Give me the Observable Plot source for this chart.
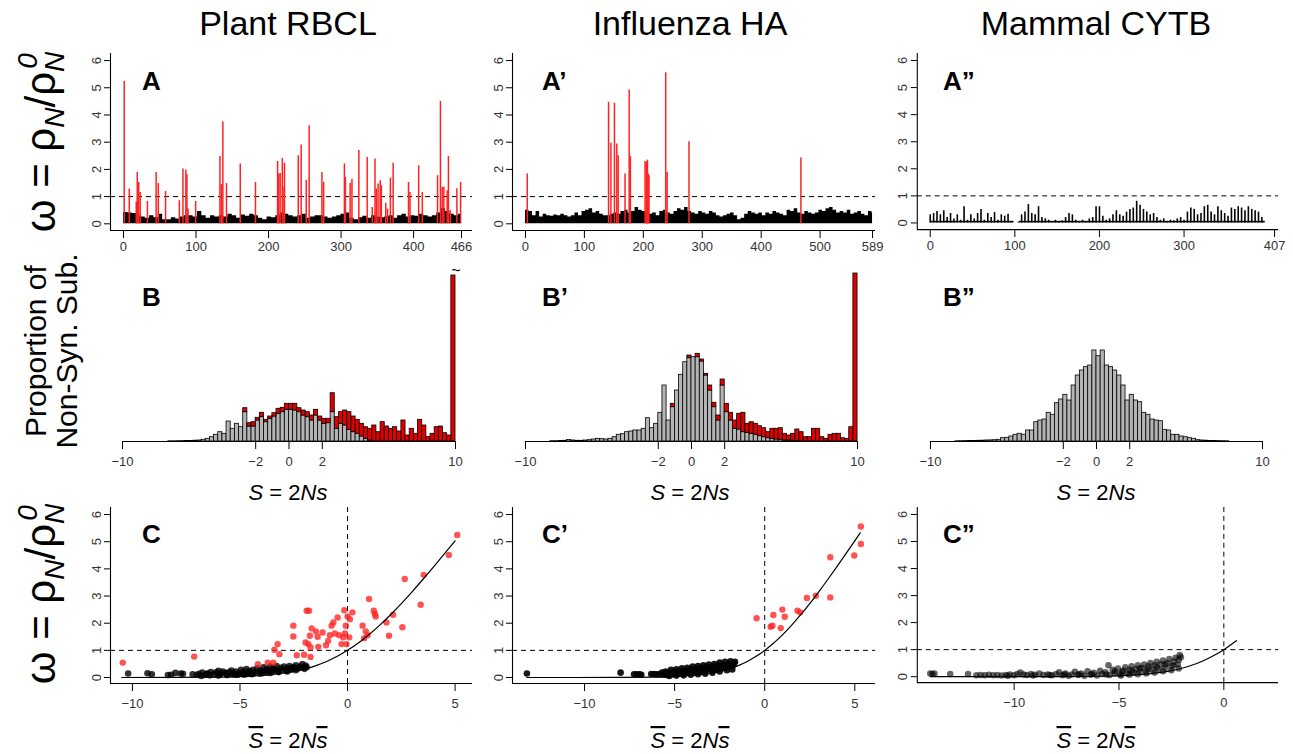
<!DOCTYPE html>
<html><head><meta charset="utf-8">
<script src="https://cdn.jsdelivr.net/npm/d3@7"></script>
<script src="https://cdn.jsdelivr.net/npm/@observablehq/plot@0.6"></script>
<style>
body{margin:0;background:#fff;}
#wrap{position:relative;width:1293px;height:754px;overflow:hidden;background:#fff;}
.p{position:absolute;}
.p svg{overflow:visible;}
</style></head><body><div id="wrap"></div>
<script>
// ---------------- DATA ----------------
const titles = ["Plant RBCL", "Influenza HA", "Mammal CYTB"];
const siteTicksA = [0, 100, 200, 300, 400, 466];
const siteTicksA1 = [0, 100, 200, 300, 400, 500, 589];
const siteTicksA2 = [0, 100, 200, 300, 407];
const omegaTicks = [0, 1, 2, 3, 4, 5, 6];
const sTicksB = [-10, -2, 0, 2, 10];
const sTicksC = [-10, -5, 0, 5];
const sTicksC2 = [-10, -5, 0];

// Row A: background omega per site (every 6 sites), plant RBCL
const blackA = [0.42,0.40,0.38,0.30,0.25,0.20,0.30,0.22,0.35,0.15,
 0.15,0.22,0.18,0.25,0.30,0.30,0.25,0.45,0.30,0.20,
 0.30,0.25,0.30,0.25,0.35,0.30,0.20,0.32,0.28,0.35,
 0.30,0.20,0.15,0.25,0.22,0.30,0.40,0.35,0.30,0.25,
 0.30,0.35,0.20,0.25,0.30,0.30,0.25,0.20,0.25,0.30,
 0.35,0.40,0.20,0.15,0.22,0.28,0.20,0.30,0.25,0.22,
 0.25,0.30,0.20,0.30,0.35,0.25,0.30,0.28,0.35,0.30,
 0.25,0.30,0.40,0.55,0.45,0.35,0.30,0.35];
// sites with positive selection (site, omega), plant RBCL
const redA = [[1,5.24],[8,1.28],[17.6,0.8],[19,1.89],[21,1.52],[23,1.15],[33,0.82],[45,1.89],[48,1.48],[58,1.19],
 [77,0.85],[82,2.01],[86,1.98],[87.5,1.8],[89,0.54],[99.5,0.82],[133,2.47],[135,1.44],[137,3.75],[142,1.48],
 [161,2.2],[182,1.52],[212.5,2.29],[214,1.83],[216,1.85],[219,2.4],[220,1.34],[222,2.23],[241,2.5],[245,2.9],
 [252,1.6],[256,3.6],[273.6,1.89],[276,1.52],[304.6,2.2],[306,1.7],[312.5,1.48],[315,1.64],[324.5,2.69],[336,2.44],
 [343,0.6],[346.8,2.38],[348.6,1.28],[351,1.46],[354,1.58],[355.5,1.4],[361.6,0.76],[364,0.54],[368,1.68],[371.8,2.23],
 [393,1.52],[395,1.15],[407,2.13],[412,1.15],[433,1.77],[437,4.5],[439.4,1.34],[441.7,1.34],[446.3,1.21],[448,2.48],
 [450.5,0.48],[459.7,1.29],[464.8,1.52]];

// Influenza HA
const blackA1 = [0.5,0.45,0.3,0.45,0.25,0.35,0.3,0.28,0.32,0.3,
 0.35,0.3,0.25,0.3,0.4,0.3,0.45,0.5,0.55,0.4,
 0.45,0.35,0.3,0.3,0.35,0.4,0.35,0.45,0.5,0.4,
 0.45,0.6,0.5,0.45,0.4,0.35,0.4,0.3,0.45,0.5,
 0.4,0.35,0.45,0.55,0.5,0.6,0.45,0.4,0.35,0.45,
 0.4,0.35,0.45,0.4,0.3,0.25,0.3,0.35,0.4,0.3,
 0.15,0.2,0.35,0.45,0.4,0.35,0.4,0.3,0.4,0.35,
 0.45,0.4,0.35,0.3,0.5,0.45,0.55,0.4,0.35,0.45,
 0.4,0.35,0.4,0.5,0.45,0.55,0.6,0.5,0.4,0.45,
 0.4,0.5,0.35,0.4,0.45,0.35,0.3,0.45,0.4];
const redA1 = [[3,1.83],[141,4.47],[145,2.96],[151,4.43],[155,2.93],[157.3,2.5],[169,1.83],[176,4.92],[178,2.47],
 [203,2.29],[205,2.26],[206,2.1],[207,2.34],[208.4,1.83],[209.6,1.77],[238,5.55],[240.4,1.89],[277.5,3.02],[467.4,2.42]];

// Mammal CYTB (every 4 sites)
const blackA2 = [0.3,0.35,0.42,0.3,0.45, 0.2,0.35,0.15,0.3,0.1, 0.6,0.1,0.3,0.15,0.35, 0.5,0.1,0.35,0.2,0.38,
 0.1,0.3,0.25,0.32,0.05, 0,0.02,0.3,0.4,0.68, 0.35,0.3,0.6,0.2,0.15, 0.1,0.05,0.1,0.05,0.08,
 0.2,0.35,0.3,0.1,0.05, 0.1,0.05,0.15,0.2,0.6, 0.6,0.25,0.1,0.15,0.3, 0.45,0.3,0.25,0.4,0.5,
 0.55,0.8,0.65,0.5,0.4, 0.3,0.35,0.2,0.1,0.15, 0.05,0.1,0.08,0.15,0.2, 0.1,0.4,0.55,0.5,0.3,
 0.35,0.6,0.65,0.4,0.3, 0.6,0.45,0.35,0.25,0.55, 0.5,0.6,0.55,0.45,0.6, 0.5,0.45,0.4,0.2];
const baseA2 = [[0, 99], [105, 396]];

// Row B: histograms, bins of 0.25 from -10 to 10 (heights in relative units)
const grayB = [0,0,0,0,0,0,0,0,0,0, 0,0.2,0.2,0.3,0.4,0.5,0.6,0.8,1,1.7,
 2.7,4.3,6.7,9.3,7.7,20,12.7,17.7,14.3,29.3, 15,15,21,24.3,19.3,22.7,25,27.7,29.3,31.7,
 31.7,31,29.3,26,24.3,21,26,21,17.7,18.3, 29.3,12.7,17.7,16,11.7,9.3,7.7,5,2.7,1,
 0,0,0,0,0,0,0,0,0,0, 0,0,0,0,0,0,0,0,0,0];
const redB = [0,0,0,0,0,0,0,0,0,0, 0,0,0,0,0,0,0,0,0,0,
 0,0,0,0,0,0,0,0,0,4, 3.3,4.3,2.7,4.4,2.4,2.3,3.3,5,4.4,6,
 6,6.7,4,5,5,5,5.7,4,5,4.4, 19,11.6,11.6,15,17.6,15.7,14,12.7,11.6,11.7,
 16,9.3,19.3,15,12.7,14.3,10,21,6,12.7, 7.7,21.7,16,4.3,7.7,14.3,15,8.3,6,166];

const grayB1 = [0,0,0,0,0,0,0.3,0.3,0.5,0.7, 1.5,1,0.7,0.7,1,1.3,2,2.7,2.3,2,
 2.7,4.3,6.7,7.3,9.3,10,11,11,12.7,23.3, 13.3,17.7,28.7,56,21,34.3,51,66.7,79.3,83.3,
 84.3,84.3,80,66,51,34.3,21,56,29.3,21, 12.7,12,9.3,8.7,7.7,6.7,5.3,4.3,3.3,2.7,
 2,1.5,1,1,0.7,0.5,0,0,0,0, 0,0,0,0,0,0,0,0,0,0];
const redB1 = [0,0,0,0,0,0,0,0,0,0, 0,0,0,0,0,0,0,0,0,0,
 0,0,0,0,0,0,0,0,0,0, 0,0,0,0,0,3.4,0,0,0,2.7,
 0,3.4,2,1.7,5,4.4,5,6,8.4,7.7, 8.3,15.7,19.4,9,11.6,11,10,9,6,10,
 10.7,11.8,6.7,5,7,11.5,9.3,4.3,4.3,12.7, 12.7,4.3,2.7,6.7,7.7,7.7,3.3,2.7,14.3,168];

const grayB2 = [0,0,0,0,0,0,0.2,0.3,0.4,0.5, 0.6,0.7,0.8,1,1.1,1.3,1.7,3.3,3.7,5,
 6.7,7.7,6.7,11,11,19.3,21,22,28.7,26.7, 38.3,42,46.7,41,56,66,71,74.3,76,91,
 85.3,91,76,74.3,71,66,56,41,46.7,41, 39.3,28.7,26.7,22,21,20.3,11.7,11,6.7,6.7,
 5,4.3,3.3,2.7,1.3,1,0.8,0.6,0.5,0.4, 0.3,0.2,0,0,0,0,0,0,0,0];

// Row C: omega vs mean scaled selection coefficient
const blackC = [[-10.2,0.15],[-9.3,0.16],[-9.1,0.12],[-8.35,0.09],[-8.2,0.1],[-8.0,0.17],[-7.75,0.15],[-7.65,0.14],[-7.2,0.12],[-7.0,0.1],
 [-6.9,0.14],[-6.75,0.18],[-6.6,0.1],[-6.5,0.16],[-6.35,0.2],[-6.2,0.12],[-6.1,0.19],[-6.0,0.25],[-5.9,0.14],[-5.8,0.22],
 [-5.7,0.17],[-5.6,0.12],[-5.5,0.2],[-5.4,0.26],[-5.3,0.15],[-5.2,0.22],[-5.1,0.1],[-5.0,0.18],[-4.95,0.28],[-4.85,0.14],
 [-4.8,0.22],[-4.7,0.31],[-4.6,0.17],[-4.55,0.24],[-4.45,0.12],[-4.4,0.28],[-4.3,0.2],[-4.2,0.34],[-4.1,0.15],[-4.05,0.26],
 [-3.95,0.22],[-3.9,0.38],[-3.8,0.18],[-3.75,0.3],[-3.65,0.24],[-3.6,0.4],[-3.5,0.2],[-3.45,0.33],[-3.35,0.27],[-3.3,0.42],
 [-3.2,0.22],[-3.1,0.36],[-3.05,0.29],[-2.95,0.4],[-2.85,0.25],[-2.8,0.34],[-2.7,0.42],[-2.6,0.3],[-2.5,0.38],[-2.4,0.45],
 [-2.3,0.33],[-2.2,0.4],[-2.1,0.5],[-2.05,0.36],[-1.95,0.44],[-1.9,0.38],
 [-6.8,0.06],[-6.4,0.08],[-6.0,0.07],[-5.6,0.09],[-5.2,0.1],[-4.8,0.1],[-4.4,0.14],[-4.0,0.15],[-3.6,0.17],[-3.2,0.2],
 [-2.8,0.22],[-2.4,0.27],[-2.0,0.32],[-6.55,0.12],[-5.95,0.1],[-5.35,0.12],[-4.65,0.13],[-3.85,0.25],[-3.4,0.3],[-2.6,0.36]];
const redC = [[-10.45,0.55],[-7.13,0.77],[-4.17,0.49],[-3.71,0.55],[-3.45,0.55],[-3.4,1.02],[-3.25,1.23],[-3.17,0.86],[-2.52,1.91],[-2.52,1.51],
 [-2.36,0.82],[-2.02,0.84],[-1.9,2.46],[-1.79,2.46],[-1.95,1.29],[-1.82,1.23],[-1.75,1.54],[-1.72,1.11],[-1.72,0.76],[-1.67,1.81],
 [-1.47,1.7],[-1.39,1.5],[-1.36,1.13],[-1.16,1.66],[-1.0,1.19],[-0.9,1.35],[-0.82,1.56],[-0.74,1.91],[-0.66,2.03],[-0.59,1.62],
 [-0.46,2.21],[-0.39,1.56],[-0.28,1.23],[-0.2,1.48],[-0.15,2.48],[-0.12,1.62],[-0.08,1.91],[-0.05,1.23],[0,2.25],[0.08,1.48],
 [0.11,2.15],[0.23,2.4],[0.7,1.91],[0.77,1.45],[0.85,1.7],[0.93,1.56],[1.0,2.89],[1.22,2.46],[1.27,2.34],[1.31,2.25],
 [1.81,2.03],[1.93,1.54],[2.12,2.31],[2.55,1.85],[2.66,3.63],[3.4,2.68],[3.54,3.78],[4.71,4.51],[5.1,5.25]];

const blackC1 = [[-13.2,0.15],[-8.0,0.18],[-7.25,0.12],[-7.1,0.12],[-6.95,0.12],[-6.85,0.1],[-6.3,0.13],[-6.15,0.13],[-6.0,0.12],[-5.85,0.12],[-5.7,0.18],[-5.6,0.1],
 [-5.5,0.22],[-5.4,0.1],[-5.3,0.18],[-5.2,0.28],[-5.1,0.12],[-5.0,0.22],[-4.9,0.3],[-4.8,0.14],[-4.7,0.24],[-4.6,0.34],
 [-4.5,0.16],[-4.4,0.27],[-4.3,0.36],[-4.2,0.18],[-4.1,0.3],[-4.0,0.4],[-3.9,0.2],[-3.8,0.32],[-3.7,0.42],[-3.6,0.22],
 [-3.5,0.35],[-3.4,0.45],[-3.3,0.25],[-3.2,0.38],[-3.1,0.48],[-3.0,0.28],[-2.9,0.4],[-2.8,0.5],[-2.7,0.3],[-2.6,0.43],
 [-2.5,0.55],[-2.4,0.33],[-2.3,0.46],[-2.2,0.58],[-2.1,0.38],[-2.0,0.5],[-1.9,0.6],[-1.8,0.42],[-1.7,0.52],[-1.65,0.58],
 [-5.3,0.06],[-4.9,0.07],[-4.5,0.08],[-4.1,0.1],[-3.7,0.12],[-3.3,0.14],[-2.9,0.18],[-2.5,0.22],[-2.1,0.27],[-1.8,0.3],
 [-5.45,0.15],[-5.05,0.17],[-4.65,0.19],[-4.25,0.24],[-3.85,0.26],[-3.45,0.3],[-3.05,0.34],[-2.65,0.37],[-2.25,0.42],[-1.95,0.46]];
const redC1 = [[-0.45,2.18],[0.33,1.87],[0.43,1.91],[0.48,2.3],[0.89,1.82],[0.98,2.5],[1.11,2.24],[1.82,2.46],[1.97,2.4],
 [2.34,2.93],[2.84,3.01],[3.64,2.95],[3.64,4.43],[4.97,4.49],[5.34,5.56],[5.34,4.92]];

const blackC2 = [[-14.0,0.12],[-13.9,0.1],[-13.8,0.12],[-13.05,0.1],[-12.2,0.1],[-11.8,0.05],[-11.6,0.06],[-11.4,0.05],[-11.2,0.07],[-11.0,0.05],
 [-10.8,0.06],[-10.6,0.04],[-10.4,0.06],[-10.2,0.08],[-10.0,0.05],[-9.85,0.1],[-9.7,0.15],[-9.55,0.08],[-9.4,0.06],[-9.2,0.1],
 [-9.0,0.07],[-8.8,0.12],[-8.6,0.06],[-8.4,0.08],[-8.2,0.05],[-8.0,0.1],[-7.85,0.16],[-7.7,0.05],[-7.55,0.12],[-7.4,0.03],
 [-7.25,0.08],[-7.1,0.18],[-6.95,0.06],[-6.8,0.12],[-6.65,0.03],[-6.5,0.2],[-6.35,0.07],[-6.2,0.14],[-6.05,0.04],[-5.9,0.22],
 [-5.8,0.1],[-5.65,0.16],[-5.5,0.42],[-5.45,0.06],[-5.3,0.25],[-5.2,0.12],[-5.05,0.3],[-4.95,0.08],[-4.85,0.18],[-4.7,0.35],
 [-4.6,0.12],[-4.5,0.25],[-4.4,0.38],[-4.3,0.15],[-4.2,0.28],[-4.1,0.42],[-4.0,0.18],[-3.9,0.32],[-3.8,0.45],[-3.7,0.2],
 [-3.6,0.38],[-3.5,0.5],[-3.4,0.25],[-3.3,0.42],[-3.2,0.55],[-3.1,0.28],[-3.0,0.46],[-2.9,0.6],[-2.8,0.32],[-2.7,0.5],
 [-2.6,0.65],[-2.5,0.38],[-2.4,0.56],[-2.3,0.7],[-2.2,0.45],[-2.15,0.62],[-2.1,0.8],[-2.05,0.72],
 [-4.9,0.04],[-4.5,0.07],[-4.1,0.09],[-3.7,0.12],[-3.3,0.15],[-2.9,0.2],[-2.5,0.24],[-2.15,0.3],
 [-5.6,0.08],[-5.2,0.2],[-4.8,0.22],[-4.4,0.2],[-4.0,0.3],[-3.6,0.28],[-3.2,0.35],[-2.8,0.45],[-2.4,0.42],
 [-6.3,0.1],[-6.9,0.09],[-7.6,0.08],[-8.3,0.06],[-9.1,0.04],[-10.3,0.03]];

// theoretical curve omega(S) read at these S values
const curveS = [-14,-13.2,-10.5,-8,-6,-5,-4,-3,-2.5,-2,-1.5,-1,-0.5,0,0.5,0.6,1,1.5,2,2.5,3,3.5,4,4.5,5,5.3];
const curveW = [0,0.00002,0.0003,0.0027,0.0149,0.0339,0.0746,0.157,0.224,0.313,0.431,0.582,0.771,1,1.271,1.33,1.582,1.931,2.313,2.724,3.157,3.609,4.075,4.551,5.034,5.327];
const curveRange = [[-10.5, 5], [-13.2, 5.3], [-14, 0.6]];

// ---------------- DRAWING ----------------
const FONT = "'Liberation Sans', Arial, Helvetica, sans-serif";
const wrap = document.getElementById("wrap");
const RED = "#ff2222";

function place(frame, xdom, ydom, marks, yAxisNone) {
  const ml = 45, mr = 15, mt = 10, mb = 40;
  const [x0, x1, y0, y1] = frame;
  const svg = Plot.plot({
    width: x1 - x0 + ml + mr, height: y1 - y0 + mt + mb,
    marginLeft: ml, marginRight: mr, marginTop: mt, marginBottom: mb,
    x: {domain: xdom}, y: yAxisNone ? {domain: ydom, axis: null} : {domain: ydom},
    style: {fontFamily: FONT, fontSize: "13px", background: "transparent", overflow: "visible", color: "#000"},
    marks
  });
  const d = document.createElement("div");
  d.className = "p";
  d.style.left = (x0 - ml) + "px";
  d.style.top = (y0 - mt) + "px";
  d.appendChild(svg);
  wrap.appendChild(d);
}

function lbox(xdom, ydom) {
  return [Plot.ruleX([xdom[0]], {strokeWidth: 1.1}), Plot.ruleY([ydom[0]], {strokeWidth: 1.1})];
}
function yAxisOmega() {
  return Plot.axisY({ticks: omegaTicks, tickSize: 6, tickPadding: 4, tickRotate: -90, label: null, fill: "#333", tickFormat: d => String(d)});
}

// Row A
const yA = [-0.246, 6.26];
function rowA(frame, xdom, black, step, lastSite, red, ticks) {
  const area = black.map((v, i) => ({s: i * step, v}));
  area.push({s: lastSite, v: black[black.length - 1]});
  place(frame, xdom, yA, [
    Plot.ruleY([1], {strokeDasharray: "5,4", strokeWidth: 1}),
    Plot.areaY(area, {x: "s", y: "v", curve: "step-after", fill: "#000"}),
    Plot.ruleX(red, {x: d => d[0], y1: d => 0, y2: d => d[1], stroke: RED, strokeWidth: 1.5}),
    ...lbox(xdom, yA),
    Plot.axisX({ticks, tickSize: 8, tickPadding: 3, label: null, tickFormat: d => String(d), fill: "#333"}),
    yAxisOmega()
  ]);
}
rowA([110, 472, 53, 230], [-17.9, 481.2], blackA, 6, 466, redA, siteTicksA);
rowA([512, 875, 53, 230], [-22, 594], blackA1, 6, 589, redA1, siteTicksA1);
{
  const xdom = [-15.3, 411.7];
  const rules = blackA2.map((v, i) => ({s: i * 4, v}));
  place([917, 1280, 53, 230], xdom, yA, [
    Plot.ruleY([1], {strokeDasharray: "5,4", strokeWidth: 1}),
    Plot.rect(baseA2, {x1: d => d[0], x2: d => d[1], y1: d => 0, y2: d => 0.06, fill: "#000"}),
    Plot.ruleX(rules, {x: "s", y1: d => 0, y2: "v", stroke: "#000", strokeWidth: 1.6}),
    ...lbox(xdom, yA),
    Plot.axisX({ticks: siteTicksA2, tickSize: 8, tickPadding: 3, label: null, tickFormat: d => String(d), fill: "#333"}),
    yAxisOmega()
  ]);
}

// Row B
function rowB(frame, gray, red) {
  const bins = gray.map((g, i) => ({x1: -10 + 0.25 * i, x2: -10 + 0.25 * (i + 1), g, r: red ? red[i] : 0}));
  const marks = [
    Plot.rect(bins.filter(d => d.g > 0), {x1: "x1", x2: "x2", y1: d => 0, y2: "g", fill: "#b4b4b4", stroke: "#000", strokeWidth: 0.8}),
    Plot.rect(bins.filter(d => d.r > 0), {x1: "x1", x2: "x2", y1: "g", y2: d => d.g + d.r, fill: "#e00000", stroke: "#000", strokeWidth: 0.8}),
    Plot.ruleY([0], {x1: d => d3.min(sTicksB), x2: d => d3.max(sTicksB), strokeWidth: 1.1}),
    Plot.axisX({ticks: sTicksB, tickSize: 8, tickPadding: 7, label: null, fill: "#333"})
  ];
  place(frame, [-10.6, 10.6], [0, 176], marks, true);
}
rowB([112, 465, 265, 441], grayB, redB);
rowB([515, 867, 265, 441], grayB1, redB1);
rowB([920, 1272, 265, 441], grayB2, null);

// Row C
const yC = [-0.22, 6.26];
function rowC(frame, xdom, black, red, ticks, range, dotOpacity) {
  const curve = curveS.map((s, i) => ({s, w: curveW[i]})).filter(d => d.s >= range[0] && d.s <= range[1]);
  place(frame, xdom, yC, [
    Plot.ruleY([1], {strokeDasharray: "5,4", strokeWidth: 1}),
    Plot.ruleX([0], {strokeDasharray: "5,4", strokeWidth: 1}),
    Plot.dot(black, {x: d => d[0], y: d => d[1], r: 3.3, fill: "#000", fillOpacity: dotOpacity, stroke: "none"}),
    Plot.dot(red, {x: d => d[0], y: d => d[1], r: 3.2, fill: RED, fillOpacity: 0.78, stroke: "none"}),
    Plot.line(curve, {x: "s", y: "w", curve: "monotone-x", stroke: "#000", strokeWidth: 1.2}),
    ...lbox(xdom, yC),
    Plot.axisX({ticks, tickSize: 8, tickPadding: 7, label: null, fill: "#333"}),
    yAxisOmega()
  ]);
}
rowC([110, 472, 507, 683], [-11.02, 5.81], blackC, redC, sTicksC, curveRange[0], 0.8);
rowC([512, 875, 507, 683], [-14.0, 6.15], blackC1, redC1, sTicksC, curveRange[1], 0.9);
rowC([917, 1280, 507, 683], [-14.62, 2.61], blackC2, [], sTicksC2, curveRange[2], 0.6);

// ---------------- TEXT OVERLAY ----------------
const ov = d3.select("#wrap").append("svg")
  .attr("width", 1293).attr("height", 754)
  .style("position", "absolute").style("left", "0px").style("top", "0px")
  .attr("font-family", FONT);

const colCenters = [288, 690, 1096];
titles.forEach((t, i) => ov.append("text").attr("x", colCenters[i]).attr("y", 35)
  .attr("text-anchor", "middle").attr("font-size", 34).text(t));

function omegaLabel(cy) {
  const t = ov.append("text").attr("transform", `translate(55,${cy}) rotate(-90)`)
    .attr("text-anchor", "middle").attr("font-size", 42);
  t.append("tspan").text("ω = ρ");
  t.append("tspan").attr("font-size", 28).attr("font-style", "italic").attr("dy", 9).text("N");
  t.append("tspan").attr("dy", -9).text("/ρ");
  t.append("tspan").attr("font-size", 28).attr("font-style", "italic").attr("dy", 9).text("N");
  t.append("tspan").attr("font-size", 28).attr("font-style", "italic").attr("dx", -17).attr("dy", -27).text("0");
}
omegaLabel(142);
omegaLabel(594);

ov.append("text").attr("transform", "translate(46,351) rotate(-90)").attr("text-anchor", "middle")
  .attr("font-size", 30).text("Proportion of");
ov.append("text").attr("transform", "translate(77,351) rotate(-90)").attr("text-anchor", "middle")
  .attr("font-size", 30).text("Non-Syn. Sub.");

colCenters.forEach(cx => {
  const t = ov.append("text").attr("x", cx).attr("y", 500).attr("text-anchor", "middle").attr("font-size", 22);
  t.append("tspan").attr("font-style", "italic").text("S");
  t.append("tspan").text(" = 2");
  t.append("tspan").attr("font-style", "italic").text("Ns");
  const u = ov.append("text").attr("x", cx).attr("y", 748).attr("text-anchor", "middle").attr("font-size", 22);
  u.append("tspan").attr("font-style", "italic").attr("text-decoration", "overline").text("S");
  u.append("tspan").text(" = 2");
  u.append("tspan").attr("font-style", "italic").text("N");
  u.append("tspan").attr("font-style", "italic").attr("text-decoration", "overline").text("s");
});

const letterX = [142, 542, 943];
const rowsLetters = [["A", "A’", "A”"], ["B", "B’", "B”"], ["C", "C’", "C”"]];
const letterY = [90, 306, 543];
rowsLetters.forEach((row, r) => row.forEach((l, c) =>
  ov.append("text").attr("x", letterX[c]).attr("y", letterY[r]).attr("font-size", 26)
    .attr("font-weight", "bold").text(l)));

// break mark on clipped bar of panel B
ov.append("text").attr("x", 456).attr("y", 276).attr("text-anchor", "middle").attr("font-size", 16).text("~");
</script></body></html>
